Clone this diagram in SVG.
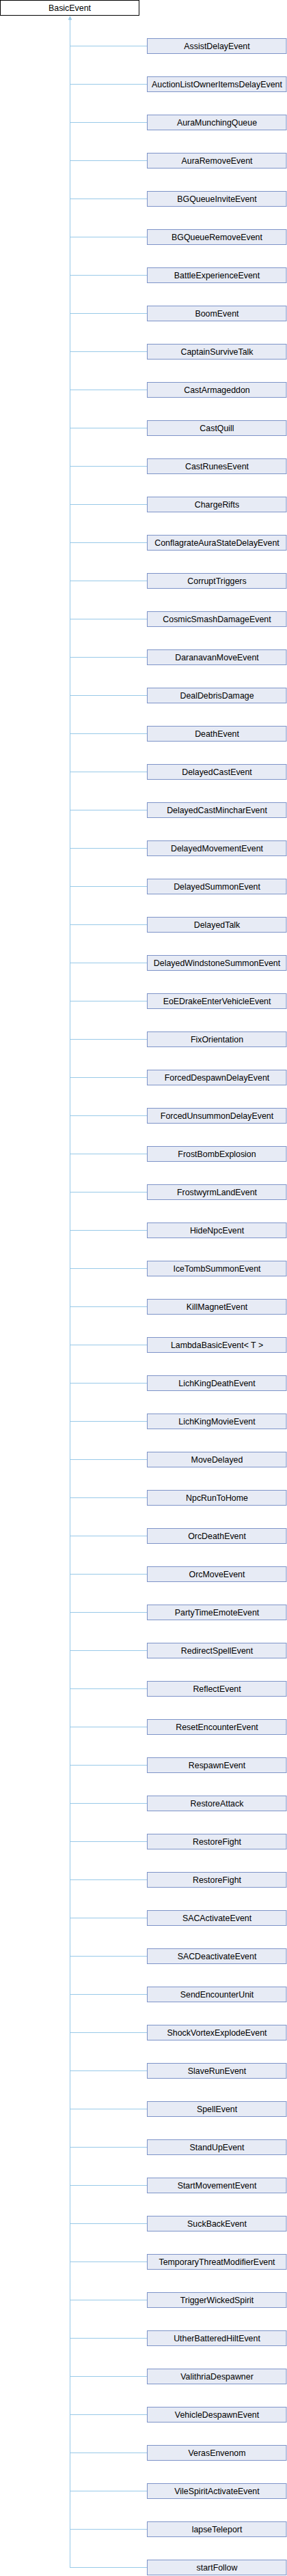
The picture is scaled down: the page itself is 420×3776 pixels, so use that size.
<svg xmlns="http://www.w3.org/2000/svg" width="420" height="3776" viewBox="0 0 420 3776">
<style>
.n rect{fill:#E7EBF5;stroke:#7D93C8;stroke-width:1}
.r rect{fill:#FFFFFF;stroke:#000000;stroke-width:1}
text{font-family:"Liberation Sans",Arial,sans-serif;font-size:12.4px;text-anchor:middle;fill:#000}
.c line{stroke:#98C9E8;stroke-width:1}
</style>
<rect width="420" height="3776" fill="#FFFFFF"/>
<g class="c" id="connectors">
<line x1="102.5" y1="28" x2="102.5" y2="3764"/>
<polygon points="102.5,23.5 100,29 105,29" fill="#98C9E8" stroke="#98C9E8" stroke-width="0.5"/>
<line x1="102.5" y1="67.5" x2="215" y2="67.5"/>
<line x1="102.5" y1="123.5" x2="215" y2="123.5"/>
<line x1="102.5" y1="179.5" x2="215" y2="179.5"/>
<line x1="102.5" y1="235.5" x2="215" y2="235.5"/>
<line x1="102.5" y1="291.5" x2="215" y2="291.5"/>
<line x1="102.5" y1="347.5" x2="215" y2="347.5"/>
<line x1="102.5" y1="403.5" x2="215" y2="403.5"/>
<line x1="102.5" y1="459.5" x2="215" y2="459.5"/>
<line x1="102.5" y1="515.5" x2="215" y2="515.5"/>
<line x1="102.5" y1="571.5" x2="215" y2="571.5"/>
<line x1="102.5" y1="627.5" x2="215" y2="627.5"/>
<line x1="102.5" y1="683.5" x2="215" y2="683.5"/>
<line x1="102.5" y1="739.5" x2="215" y2="739.5"/>
<line x1="102.5" y1="795.5" x2="215" y2="795.5"/>
<line x1="102.5" y1="851.5" x2="215" y2="851.5"/>
<line x1="102.5" y1="907.5" x2="215" y2="907.5"/>
<line x1="102.5" y1="963.5" x2="215" y2="963.5"/>
<line x1="102.5" y1="1019.5" x2="215" y2="1019.5"/>
<line x1="102.5" y1="1075.5" x2="215" y2="1075.5"/>
<line x1="102.5" y1="1131.5" x2="215" y2="1131.5"/>
<line x1="102.5" y1="1187.5" x2="215" y2="1187.5"/>
<line x1="102.5" y1="1243.5" x2="215" y2="1243.5"/>
<line x1="102.5" y1="1299.5" x2="215" y2="1299.5"/>
<line x1="102.5" y1="1355.5" x2="215" y2="1355.5"/>
<line x1="102.5" y1="1411.5" x2="215" y2="1411.5"/>
<line x1="102.5" y1="1467.5" x2="215" y2="1467.5"/>
<line x1="102.5" y1="1523.5" x2="215" y2="1523.5"/>
<line x1="102.5" y1="1579.5" x2="215" y2="1579.5"/>
<line x1="102.5" y1="1635.5" x2="215" y2="1635.5"/>
<line x1="102.5" y1="1691.5" x2="215" y2="1691.5"/>
<line x1="102.5" y1="1747.5" x2="215" y2="1747.5"/>
<line x1="102.5" y1="1803.5" x2="215" y2="1803.5"/>
<line x1="102.5" y1="1859.5" x2="215" y2="1859.5"/>
<line x1="102.5" y1="1915.5" x2="215" y2="1915.5"/>
<line x1="102.5" y1="1971.5" x2="215" y2="1971.5"/>
<line x1="102.5" y1="2027.5" x2="215" y2="2027.5"/>
<line x1="102.5" y1="2083.5" x2="215" y2="2083.5"/>
<line x1="102.5" y1="2139.5" x2="215" y2="2139.5"/>
<line x1="102.5" y1="2195.5" x2="215" y2="2195.5"/>
<line x1="102.5" y1="2251.5" x2="215" y2="2251.5"/>
<line x1="102.5" y1="2307.5" x2="215" y2="2307.5"/>
<line x1="102.5" y1="2363.5" x2="215" y2="2363.5"/>
<line x1="102.5" y1="2419.5" x2="215" y2="2419.5"/>
<line x1="102.5" y1="2475.5" x2="215" y2="2475.5"/>
<line x1="102.5" y1="2531.5" x2="215" y2="2531.5"/>
<line x1="102.5" y1="2587.5" x2="215" y2="2587.5"/>
<line x1="102.5" y1="2643.5" x2="215" y2="2643.5"/>
<line x1="102.5" y1="2699.5" x2="215" y2="2699.5"/>
<line x1="102.5" y1="2755.5" x2="215" y2="2755.5"/>
<line x1="102.5" y1="2811.5" x2="215" y2="2811.5"/>
<line x1="102.5" y1="2867.5" x2="215" y2="2867.5"/>
<line x1="102.5" y1="2923.5" x2="215" y2="2923.5"/>
<line x1="102.5" y1="2979.5" x2="215" y2="2979.5"/>
<line x1="102.5" y1="3035.5" x2="215" y2="3035.5"/>
<line x1="102.5" y1="3091.5" x2="215" y2="3091.5"/>
<line x1="102.5" y1="3147.5" x2="215" y2="3147.5"/>
<line x1="102.5" y1="3203.5" x2="215" y2="3203.5"/>
<line x1="102.5" y1="3259.5" x2="215" y2="3259.5"/>
<line x1="102.5" y1="3315.5" x2="215" y2="3315.5"/>
<line x1="102.5" y1="3371.5" x2="215" y2="3371.5"/>
<line x1="102.5" y1="3427.5" x2="215" y2="3427.5"/>
<line x1="102.5" y1="3483.5" x2="215" y2="3483.5"/>
<line x1="102.5" y1="3539.5" x2="215" y2="3539.5"/>
<line x1="102.5" y1="3595.5" x2="215" y2="3595.5"/>
<line x1="102.5" y1="3651.5" x2="215" y2="3651.5"/>
<line x1="102.5" y1="3707.5" x2="215" y2="3707.5"/>
<line x1="102.5" y1="3763.5" x2="215" y2="3763.5"/>
</g>
<g class="r" id="BasicEvent"><rect x="0.5" y="0.5" width="203" height="22"/><text x="102" y="16">BasicEvent</text></g>
<g class="n" id="n1"><rect x="215.5" y="56.5" width="203.5" height="22"/><text x="317.5" y="72">AssistDelayEvent</text></g>
<g class="n" id="n2"><rect x="215.5" y="112.5" width="203.5" height="22"/><text x="317.5" y="128">AuctionListOwnerItemsDelayEvent</text></g>
<g class="n" id="n3"><rect x="215.5" y="168.5" width="203.5" height="22"/><text x="317.5" y="184">AuraMunchingQueue</text></g>
<g class="n" id="n4"><rect x="215.5" y="224.5" width="203.5" height="22"/><text x="317.5" y="240">AuraRemoveEvent</text></g>
<g class="n" id="n5"><rect x="215.5" y="280.5" width="203.5" height="22"/><text x="317.5" y="296">BGQueueInviteEvent</text></g>
<g class="n" id="n6"><rect x="215.5" y="336.5" width="203.5" height="22"/><text x="317.5" y="352">BGQueueRemoveEvent</text></g>
<g class="n" id="n7"><rect x="215.5" y="392.5" width="203.5" height="22"/><text x="317.5" y="408">BattleExperienceEvent</text></g>
<g class="n" id="n8"><rect x="215.5" y="448.5" width="203.5" height="22"/><text x="317.5" y="464">BoomEvent</text></g>
<g class="n" id="n9"><rect x="215.5" y="504.5" width="203.5" height="22"/><text x="317.5" y="520">CaptainSurviveTalk</text></g>
<g class="n" id="n10"><rect x="215.5" y="560.5" width="203.5" height="22"/><text x="317.5" y="576">CastArmageddon</text></g>
<g class="n" id="n11"><rect x="215.5" y="616.5" width="203.5" height="22"/><text x="317.5" y="632">CastQuill</text></g>
<g class="n" id="n12"><rect x="215.5" y="672.5" width="203.5" height="22"/><text x="317.5" y="688">CastRunesEvent</text></g>
<g class="n" id="n13"><rect x="215.5" y="728.5" width="203.5" height="22"/><text x="317.5" y="744">ChargeRifts</text></g>
<g class="n" id="n14"><rect x="215.5" y="784.5" width="203.5" height="22"/><text x="317.5" y="800">ConflagrateAuraStateDelayEvent</text></g>
<g class="n" id="n15"><rect x="215.5" y="840.5" width="203.5" height="22"/><text x="317.5" y="856">CorruptTriggers</text></g>
<g class="n" id="n16"><rect x="215.5" y="896.5" width="203.5" height="22"/><text x="317.5" y="912">CosmicSmashDamageEvent</text></g>
<g class="n" id="n17"><rect x="215.5" y="952.5" width="203.5" height="22"/><text x="317.5" y="968">DaranavanMoveEvent</text></g>
<g class="n" id="n18"><rect x="215.5" y="1008.5" width="203.5" height="22"/><text x="317.5" y="1024">DealDebrisDamage</text></g>
<g class="n" id="n19"><rect x="215.5" y="1064.5" width="203.5" height="22"/><text x="317.5" y="1080">DeathEvent</text></g>
<g class="n" id="n20"><rect x="215.5" y="1120.5" width="203.5" height="22"/><text x="317.5" y="1136">DelayedCastEvent</text></g>
<g class="n" id="n21"><rect x="215.5" y="1176.5" width="203.5" height="22"/><text x="317.5" y="1192">DelayedCastMincharEvent</text></g>
<g class="n" id="n22"><rect x="215.5" y="1232.5" width="203.5" height="22"/><text x="317.5" y="1248">DelayedMovementEvent</text></g>
<g class="n" id="n23"><rect x="215.5" y="1288.5" width="203.5" height="22"/><text x="317.5" y="1304">DelayedSummonEvent</text></g>
<g class="n" id="n24"><rect x="215.5" y="1344.5" width="203.5" height="22"/><text x="317.5" y="1360">DelayedTalk</text></g>
<g class="n" id="n25"><rect x="215.5" y="1400.5" width="203.5" height="22"/><text x="317.5" y="1416">DelayedWindstoneSummonEvent</text></g>
<g class="n" id="n26"><rect x="215.5" y="1456.5" width="203.5" height="22"/><text x="317.5" y="1472">EoEDrakeEnterVehicleEvent</text></g>
<g class="n" id="n27"><rect x="215.5" y="1512.5" width="203.5" height="22"/><text x="317.5" y="1528">FixOrientation</text></g>
<g class="n" id="n28"><rect x="215.5" y="1568.5" width="203.5" height="22"/><text x="317.5" y="1584">ForcedDespawnDelayEvent</text></g>
<g class="n" id="n29"><rect x="215.5" y="1624.5" width="203.5" height="22"/><text x="317.5" y="1640">ForcedUnsummonDelayEvent</text></g>
<g class="n" id="n30"><rect x="215.5" y="1680.5" width="203.5" height="22"/><text x="317.5" y="1696">FrostBombExplosion</text></g>
<g class="n" id="n31"><rect x="215.5" y="1736.5" width="203.5" height="22"/><text x="317.5" y="1752">FrostwyrmLandEvent</text></g>
<g class="n" id="n32"><rect x="215.5" y="1792.5" width="203.5" height="22"/><text x="317.5" y="1808">HideNpcEvent</text></g>
<g class="n" id="n33"><rect x="215.5" y="1848.5" width="203.5" height="22"/><text x="317.5" y="1864">IceTombSummonEvent</text></g>
<g class="n" id="n34"><rect x="215.5" y="1904.5" width="203.5" height="22"/><text x="317.5" y="1920">KillMagnetEvent</text></g>
<g class="n" id="n35"><rect x="215.5" y="1960.5" width="203.5" height="22"/><text x="317.5" y="1976">LambdaBasicEvent&lt; T &gt;</text></g>
<g class="n" id="n36"><rect x="215.5" y="2016.5" width="203.5" height="22"/><text x="317.5" y="2032">LichKingDeathEvent</text></g>
<g class="n" id="n37"><rect x="215.5" y="2072.5" width="203.5" height="22"/><text x="317.5" y="2088">LichKingMovieEvent</text></g>
<g class="n" id="n38"><rect x="215.5" y="2128.5" width="203.5" height="22"/><text x="317.5" y="2144">MoveDelayed</text></g>
<g class="n" id="n39"><rect x="215.5" y="2184.5" width="203.5" height="22"/><text x="317.5" y="2200">NpcRunToHome</text></g>
<g class="n" id="n40"><rect x="215.5" y="2240.5" width="203.5" height="22"/><text x="317.5" y="2256">OrcDeathEvent</text></g>
<g class="n" id="n41"><rect x="215.5" y="2296.5" width="203.5" height="22"/><text x="317.5" y="2312">OrcMoveEvent</text></g>
<g class="n" id="n42"><rect x="215.5" y="2352.5" width="203.5" height="22"/><text x="317.5" y="2368">PartyTimeEmoteEvent</text></g>
<g class="n" id="n43"><rect x="215.5" y="2408.5" width="203.5" height="22"/><text x="317.5" y="2424">RedirectSpellEvent</text></g>
<g class="n" id="n44"><rect x="215.5" y="2464.5" width="203.5" height="22"/><text x="317.5" y="2480">ReflectEvent</text></g>
<g class="n" id="n45"><rect x="215.5" y="2520.5" width="203.5" height="22"/><text x="317.5" y="2536">ResetEncounterEvent</text></g>
<g class="n" id="n46"><rect x="215.5" y="2576.5" width="203.5" height="22"/><text x="317.5" y="2592">RespawnEvent</text></g>
<g class="n" id="n47"><rect x="215.5" y="2632.5" width="203.5" height="22"/><text x="317.5" y="2648">RestoreAttack</text></g>
<g class="n" id="n48"><rect x="215.5" y="2688.5" width="203.5" height="22"/><text x="317.5" y="2704">RestoreFight</text></g>
<g class="n" id="n49"><rect x="215.5" y="2744.5" width="203.5" height="22"/><text x="317.5" y="2760">RestoreFight</text></g>
<g class="n" id="n50"><rect x="215.5" y="2800.5" width="203.5" height="22"/><text x="317.5" y="2816">SACActivateEvent</text></g>
<g class="n" id="n51"><rect x="215.5" y="2856.5" width="203.5" height="22"/><text x="317.5" y="2872">SACDeactivateEvent</text></g>
<g class="n" id="n52"><rect x="215.5" y="2912.5" width="203.5" height="22"/><text x="317.5" y="2928">SendEncounterUnit</text></g>
<g class="n" id="n53"><rect x="215.5" y="2968.5" width="203.5" height="22"/><text x="317.5" y="2984">ShockVortexExplodeEvent</text></g>
<g class="n" id="n54"><rect x="215.5" y="3024.5" width="203.5" height="22"/><text x="317.5" y="3040">SlaveRunEvent</text></g>
<g class="n" id="n55"><rect x="215.5" y="3080.5" width="203.5" height="22"/><text x="317.5" y="3096">SpellEvent</text></g>
<g class="n" id="n56"><rect x="215.5" y="3136.5" width="203.5" height="22"/><text x="317.5" y="3152">StandUpEvent</text></g>
<g class="n" id="n57"><rect x="215.5" y="3192.5" width="203.5" height="22"/><text x="317.5" y="3208">StartMovementEvent</text></g>
<g class="n" id="n58"><rect x="215.5" y="3248.5" width="203.5" height="22"/><text x="317.5" y="3264">SuckBackEvent</text></g>
<g class="n" id="n59"><rect x="215.5" y="3304.5" width="203.5" height="22"/><text x="317.5" y="3320">TemporaryThreatModifierEvent</text></g>
<g class="n" id="n60"><rect x="215.5" y="3360.5" width="203.5" height="22"/><text x="317.5" y="3376">TriggerWickedSpirit</text></g>
<g class="n" id="n61"><rect x="215.5" y="3416.5" width="203.5" height="22"/><text x="317.5" y="3432">UtherBatteredHiltEvent</text></g>
<g class="n" id="n62"><rect x="215.5" y="3472.5" width="203.5" height="22"/><text x="317.5" y="3488">ValithriaDespawner</text></g>
<g class="n" id="n63"><rect x="215.5" y="3528.5" width="203.5" height="22"/><text x="317.5" y="3544">VehicleDespawnEvent</text></g>
<g class="n" id="n64"><rect x="215.5" y="3584.5" width="203.5" height="22"/><text x="317.5" y="3600">VerasEnvenom</text></g>
<g class="n" id="n65"><rect x="215.5" y="3640.5" width="203.5" height="22"/><text x="317.5" y="3656">VileSpiritActivateEvent</text></g>
<g class="n" id="n66"><rect x="215.5" y="3696.5" width="203.5" height="22"/><text x="317.5" y="3712">lapseTeleport</text></g>
<g class="n" id="n67"><rect x="215.5" y="3752.5" width="203.5" height="22"/><text x="317.5" y="3768">startFollow</text></g>
</svg>
